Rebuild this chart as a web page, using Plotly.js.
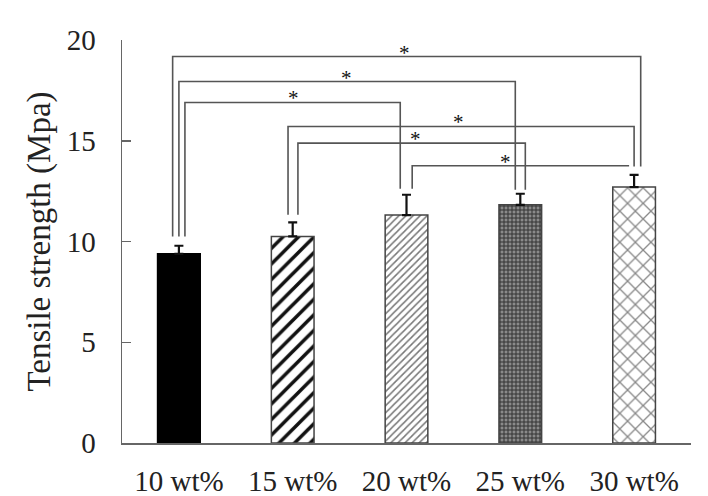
<!DOCTYPE html>
<html>
<head>
<meta charset="utf-8">
<script src="https://cdn.plot.ly/plotly-3.0.1.min.js"></script>
<style>html,body{margin:0;padding:0;background:#fff;}#chart{width:708px;height:496px;}</style>
</head>
<body>
<div id="chart"></div>
<script>
// ---- data ----
var categories = ["10 wt%", "15 wt%", "20 wt%", "25 wt%", "30 wt%"];
var strength = [9.39, 10.25, 11.31, 11.82, 12.70];
var strengthErr = [0.40, 0.70, 1.01, 0.55, 0.61];
var yTicks = [0, 5, 10, 15, 20];
var sigPairs = [[0, 4], [0, 3], [0, 2], [1, 4], [1, 3], [2, 4]];
var sigLabel = "*";

// ---- layout helpers (positions / styles) ----
var xIdx = categories.map(function (c, i) { return i; });
var bracketLevel = [19.18, 17.94, 16.90, 15.71, 14.88, 13.76];
var bracketOffA = [-0.055, 0.0, 0.053, -0.041, 0.046, 0.05];
var bracketOffB = [0.058, -0.044, -0.055, 0.0, 0.044, -0.044];
var footLevel = [10.25, 11.33, 12.62, 12.57, 13.72];
var starX = [1.98, 1.47, 1.01, 2.46, 2.08, 2.87];

var patterns = [
  {shape: "", fgcolor: "#000", bgcolor: "#000"},
  {shape: "/", size: 11, solidity: 0.32, fgcolor: "#111", bgcolor: "#fff"},
  {shape: "/", size: 5, solidity: 0.3, fgcolor: "#777", bgcolor: "#fff"},
  {shape: "+", size: 4, solidity: 0.45, fgcolor: "#333", bgcolor: "#8a8a8a"},
  {shape: "x", size: 11, solidity: 0.22, fgcolor: "#888", bgcolor: "#fff"}
];
var barColors = ["#000", "#fff", "#fff", "#777", "#fff"];

var traces = [];
categories.forEach(function (c, i) {
  traces.push({
    type: "bar",
    x: [xIdx[i]],
    y: [strength[i]],
    width: 0.375,
    marker: {
      color: barColors[i],
      line: {color: i === 0 ? "#000" : "#444", width: 1.5},
      pattern: patterns[i]
    },
    error_y: {
      type: "data", symmetric: false,
      array: [strengthErr[i]], arrayminus: [0],
      color: "#111", thickness: 2.2, width: 4.5
    },
    hoverinfo: "skip",
    showlegend: false
  });
});

var shapes = [];
var annotations = [];
var lineStyle = {color: "#555", width: 1.6};
sigPairs.forEach(function (p, k) {
  var xa = p[0] + bracketOffA[k], xb = p[1] + bracketOffB[k];
  var yl = bracketLevel[k];
  var ya = footLevel[p[0]];
  var yb = (k === 5) ? yl : footLevel[p[1]];
  shapes.push({
    type: "path", xref: "x", yref: "y",
    path: "M " + xa + "," + ya + " L " + xa + "," + yl + " L " + xb + "," + yl + " L " + xb + "," + yb,
    line: lineStyle
  });
  annotations.push({
    x: starX[k], y: yl, xref: "x", yref: "y",
    text: sigLabel, showarrow: false,
    yanchor: "middle", yshift: 4,
    font: {family: "Liberation Serif", size: 21, color: "#111"}
  });
});

var layout = {
  width: 708, height: 496,
  margin: {l: 122, r: 17, t: 40, b: 52.5},
  paper_bgcolor: "#fff", plot_bgcolor: "#fff",
  font: {family: "Liberation Serif", color: "#222"},
  barmode: "overlay",
  xaxis: {
    range: [-0.5, 4.5],
    tickvals: xIdx, ticktext: categories,
    showline: true, linecolor: "#666", linewidth: 1.5,
    ticks: "", showgrid: false, zeroline: false,
    tickfont: {family: "Liberation Serif", size: 29, color: "#222"},
    ticklabelstandoff: 12
  },
  yaxis: {
    range: [0, 20],
    tickvals: yTicks,
    showline: true, linecolor: "#666", linewidth: 1.5,
    ticks: "inside", ticklen: 9, tickcolor: "#666", tickwidth: 1.5,
    showgrid: false, zeroline: false,
    tickfont: {family: "Liberation Serif", size: 29, color: "#222"},
    ticklabelstandoff: 19,
    title: {text: "Tensile strength (Mpa)", font: {family: "Liberation Serif", size: 33, color: "#222"}, standoff: 6}
  },
  shapes: shapes,
  annotations: annotations
};

Plotly.newPlot("chart", traces, layout, {displayModeBar: false, staticPlot: true});
</script>
</body>
</html>
